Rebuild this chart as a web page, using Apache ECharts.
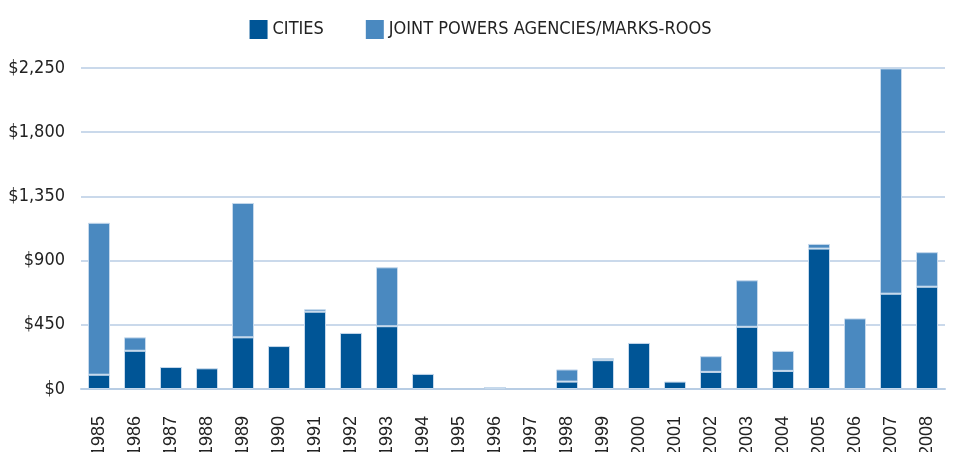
<!DOCTYPE html>
<html>
<head>
<meta charset="utf-8">
<script src="https://cdn.jsdelivr.net/npm/echarts@6/dist/echarts.min.js"></script>
<style>
  html, body { margin: 0; padding: 0; background: #fff; }
  #chart { width: 961px; height: 452px; }
</style>
</head>
<body>
<div id="chart"></div>
<script>
// Years on the x axis
const years = ['1985', '1986', '1987', '1988', '1989', '1990', '1991', '1992', '1993', '1994', '1995', '1996',
  '1997', '1998', '1999', '2000', '2001', '2002', '2003', '2004', '2005', '2006', '2007', '2008'];

// Cities (millions of dollars)
const cities = [100, 268, 154, 145, 362, 301, 542, 393, 440, 106, 0, 14,
  0, 52, 202, 323, 52, 120, 436, 127, 984, 0, 668, 717];

// Joint powers agencies / Marks-Roos
const jpa = [1065, 94, 0, 0, 942, 0, 17, 0, 413, 0, 0, 0,
  0, 85, 14, 0, 0, 110, 326, 140, 33, 495, 1579, 242];

const yTicks = { min: 0, max: 2250, step: 450 };

const narrow = '"Liberation Sans Narrow", "DejaVu Sans Condensed", "Liberation Sans", sans-serif';
const regular = '"Liberation Sans", Arial, sans-serif';

// empty segments are left out so they draw no border
const noZero = (arr) => arr.map((v) => (v === 0 ? null : v));

const chart = echarts.init(document.getElementById('chart'));

chart.setOption({
  animation: false,
  legend: {
    top: 15,
    left: 'center',
    icon: 'rect',
    itemWidth: 18,
    itemHeight: 19,
    itemGap: 42,
    itemStyle: { borderWidth: 0 },
    textStyle: { fontFamily: narrow, fontSize: 18, color: '#222' },
    data: ['CITIES', 'JOINT POWERS AGENCIES/MARKS-ROOS']
  },
  grid: { left: 81, right: 16, top: 68, bottom: 63, containLabel: false, outerBoundsMode: 'none' },
  xAxis: {
    type: 'category',
    data: years,
    axisLine: { lineStyle: { color: '#b8cde4', width: 2 } },
    axisTick: { show: false },
    axisLabel: {
      rotate: 90,
      margin: 21,
      fontFamily: regular,
      fontSize: 18,
      color: '#222',
      formatter: (v) => '{y|' + v + '}',
      rich: {
        y: { fontFamily: regular, fontSize: 18, color: '#222', padding: [0, 6, 0, 0] }
      }
    }
  },
  yAxis: {
    type: 'value',
    min: yTicks.min,
    max: yTicks.max,
    interval: yTicks.step,
    axisLine: { show: false },
    axisTick: { show: false },
    splitLine: { lineStyle: { color: '#b8cde4', width: 1.5 } },
    axisLabel: {
      margin: 16,
      fontFamily: narrow,
      fontSize: 18,
      color: '#222',
      formatter: (v) => '$' + v.toLocaleString('en-US')
    }
  },
  series: [
    {
      name: 'CITIES',
      type: 'bar',
      stack: 'total',
      barWidth: 22,
      data: noZero(cities),
      itemStyle: { color: '#005596', borderColor: '#c6d9ec', borderWidth: 1 }
    },
    {
      name: 'JOINT POWERS AGENCIES/MARKS-ROOS',
      type: 'bar',
      stack: 'total',
      barWidth: 22,
      data: noZero(jpa),
      itemStyle: { color: '#4a89c0', borderColor: '#c6d9ec', borderWidth: 1 }
    }
  ]
});
</script>
</body>
</html>
